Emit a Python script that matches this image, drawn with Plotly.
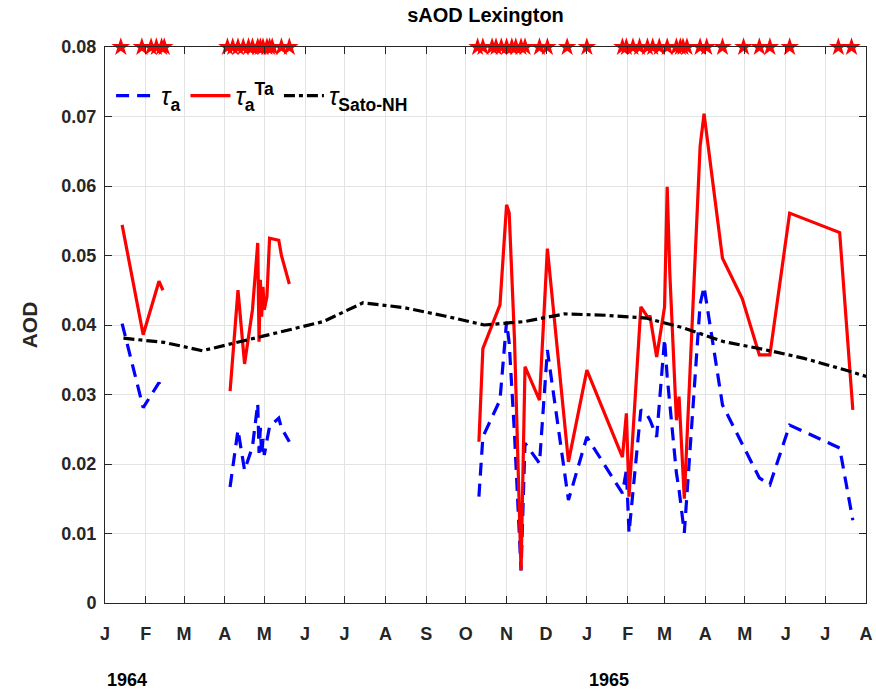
import plotly.graph_objects as go

# Daily retrievals at Lexington (None marks gaps between observing campaigns)
obs_dates = [
    "1964-01-14", "1964-01-30", "1964-02-11", "1964-02-14",
    "1964-03-15",
    "1964-04-05", "1964-04-11", "1964-04-16", "1964-04-22", "1964-04-26",
    "1964-04-27", "1964-04-28", "1964-04-29", "1964-04-30", "1964-05-01",
    "1964-05-03", "1964-05-05", "1964-05-12", "1964-05-14", "1964-05-20",
    "1964-08-01",
    "1964-10-11", "1964-10-14", "1964-10-27", "1964-11-01", "1964-11-03",
    "1964-11-07", "1964-11-12", "1964-11-15", "1964-11-26", "1964-12-02",
    "1964-12-18", "1965-01-01", "1965-01-28", "1965-01-31", "1965-02-02",
    "1965-02-11", "1965-02-16", "1965-02-18", "1965-02-23", "1965-03-01",
    "1965-03-03", "1965-03-05", "1965-03-10", "1965-03-12", "1965-03-16",
    "1965-03-28", "1965-03-31", "1965-04-14", "1965-04-29", "1965-05-12",
    "1965-05-20", "1965-06-04", "1965-07-12", "1965-07-22",
]

tau_a = [
    0.0402, 0.0281, 0.0317, 0.0305,
    None,
    0.0167, 0.0249, 0.0191, 0.0225, 0.0287,
    0.0216, 0.0252, 0.0213, 0.0236, 0.0213,
    0.0234, 0.0254, 0.0266, 0.0252, 0.0232,
    None,
    0.0153, 0.0239, 0.0292, 0.0405, 0.0374,
    0.0244, 0.0047, 0.0230, 0.0201, 0.0364,
    0.0148, 0.0239, 0.0158, 0.0191, 0.0101,
    0.0278, 0.0270, 0.0263, 0.0239, 0.0380,
    0.0326, 0.0288, 0.0187, 0.0163, 0.0101,
    0.0430, 0.0455, 0.0285, 0.0228, 0.0180,
    0.0170, 0.0256, 0.0223, 0.0119,
]

tau_a_ta = [
    0.0544, 0.0386, 0.0463, 0.0450,
    None,
    0.0305, 0.0450, 0.0344, 0.0422, 0.0518,
    0.0376, 0.0465, 0.0412, 0.0455, 0.0422,
    0.0441, 0.0525, 0.0522, 0.0500, 0.0459,
    None,
    0.0232, 0.0366, 0.0429, 0.0573, 0.0561,
    0.0380, 0.0047, 0.0340, 0.0292, 0.0510,
    0.0203, 0.0335, 0.0210, 0.0273, 0.0153,
    0.0426, 0.0412, 0.0412, 0.0354, 0.0426,
    0.0599, 0.0474, 0.0263, 0.0297, 0.0150,
    0.0657, 0.0704, 0.0496, 0.0438, 0.0357,
    0.0357, 0.0561, 0.0533, 0.0278,
]

# Monthly Sato Northern Hemisphere stratospheric AOD
sato_dates = [
    "1964-01-15", "1964-02-15", "1964-03-15", "1964-04-15", "1964-05-15",
    "1964-06-15", "1964-07-15", "1964-08-15", "1964-09-15", "1964-10-15",
    "1964-11-15", "1964-12-15", "1965-01-15", "1965-02-15", "1965-03-15",
    "1965-04-15", "1965-05-15", "1965-06-15", "1965-07-15", "1965-08-15",
]
sato_nh = [
    0.0381, 0.0375, 0.0363, 0.0377, 0.0390,
    0.0405, 0.0432, 0.0425, 0.0413, 0.0400,
    0.0405, 0.0416, 0.0414, 0.0410, 0.0396,
    0.0376, 0.0365, 0.0352, 0.0336, 0.0318,
]

# Days with a photometer observation, flagged along the top of the axes
flag_dates = [
    "1964-01-13", "1964-01-29", "1964-02-05", "1964-02-09", "1964-02-13",
    "1964-02-15",
    "1964-04-03", "1964-04-07", "1964-04-11", "1964-04-15", "1964-04-19",
    "1964-04-22", "1964-04-26", "1964-04-28", "1964-04-30", "1964-05-03",
    "1964-05-05", "1964-05-07", "1964-05-14", "1964-05-20",
    "1964-10-10", "1964-10-14", "1964-10-21", "1964-10-24", "1964-10-28",
    "1964-11-01", "1964-11-05", "1964-11-08", "1964-11-12", "1964-11-15",
    "1964-11-26", "1964-12-02", "1964-12-17", "1965-01-01", "1965-01-28",
    "1965-01-31", "1965-02-05", "1965-02-10", "1965-02-16", "1965-02-20",
    "1965-02-25", "1965-03-03", "1965-03-10", "1965-03-13", "1965-03-15",
    "1965-03-18", "1965-03-28", "1965-04-02", "1965-04-14", "1965-04-30",
    "1965-05-12", "1965-05-20", "1965-06-04", "1965-07-11", "1965-07-21",
]
flag_level = 0.08

month_ticks = [
    "1964-01-01", "1964-02-01", "1964-03-01", "1964-04-01", "1964-05-01",
    "1964-06-01", "1964-07-01", "1964-08-01", "1964-09-01", "1964-10-01",
    "1964-11-01", "1964-12-01", "1965-01-01", "1965-02-01", "1965-03-01",
    "1965-04-01", "1965-05-01", "1965-06-01", "1965-07-01", "1965-08-01",
]
month_letters = ["J", "F", "M", "A", "M", "J", "J", "A", "S", "O",
                 "N", "D", "J", "F", "M", "A", "M", "J", "J", "A"]
year_labels = ["1964", "1965"]
year_starts = ["1964-01-01", "1965-01-01"]

y_ticks = [0, 0.01, 0.02, 0.03, 0.04, 0.05, 0.06, 0.07, 0.08]
y_ticktext = ["0", "0.01", "0.02", "0.03", "0.04", "0.05", "0.06", "0.07", "0.08"]

FONT = "Arial, 'Liberation Sans', Helvetica, sans-serif"
INK = "#262626"

fig = go.Figure()

fig.add_trace(go.Scatter(
    x=obs_dates, y=tau_a, mode="lines",
    line=dict(color="#0000ff", width=3.2, dash="13px,8px"),
    name="<i>τ</i><sub><b>a</b></sub>",
))
fig.add_trace(go.Scatter(
    x=obs_dates, y=tau_a_ta, mode="lines",
    line=dict(color="#ff0000", width=3.2),
    name="<i>τ</i><sub><b>a</b></sub><sup><b>Ta</b></sup>",
))
fig.add_trace(go.Scatter(
    x=sato_dates, y=sato_nh, mode="lines",
    line=dict(color="#000000", width=3.2, dash="11px,4px,4px,4px"),
    name="<i>τ</i><sub><b>Sato-NH</b></sub>",
))
fig.add_trace(go.Scatter(
    x=flag_dates, y=[flag_level] * len(flag_dates), mode="markers",
    marker=dict(symbol="star", size=14, color="#ff0000", line=dict(width=0)),
    cliponaxis=False, showlegend=False, hoverinfo="x",
))

for label, start in zip(year_labels, year_starts):
    fig.add_annotation(
        x=start, xref="x", y=-0.139, yref="paper",
        text="<b>%s</b>" % label, showarrow=False,
        xanchor="left", yanchor="middle",
        font=dict(family=FONT, size=18, color="#000000"),
    )

fig.update_layout(
    width=876, height=692,
    margin=dict(l=105, r=10, t=47, b=89, autoexpand=False),
    paper_bgcolor="white", plot_bgcolor="white",
    font=dict(family=FONT, color=INK),
    title=dict(
        text="<b>sAOD Lexington</b>", x=0.5, xref="paper", xanchor="center",
        y=1 - 15 / 692, yanchor="middle",
        font=dict(family=FONT, size=20, color="#000000"),
    ),
    legend=dict(
        orientation="h", x=0.008, y=0.912, xanchor="left", yanchor="middle",
        bgcolor="rgba(0,0,0,0)", borderwidth=0,
        font=dict(family=FONT, size=25, color="#000000"),
        itemwidth=40, tracegroupgap=0,
    ),
    showlegend=True,
)

fig.update_xaxes(
    type="date", range=["1964-01-01", "1965-08-01"], automargin=False,
    tickmode="array", tickvals=month_ticks,
    ticktext=["<b>%s</b>" % t for t in month_letters],
    tickfont=dict(family=FONT, size=18, color=INK),
    ticks="inside", ticklen=7, tickcolor=INK, tickwidth=1,
    ticklabelstandoff=14,
    showline=True, linecolor=INK, linewidth=1, mirror="ticks",
    showgrid=True, gridcolor="#e3e3e3", gridwidth=1,
    zeroline=False,
)
fig.update_yaxes(
    range=[0, 0.08], tickmode="array", tickvals=y_ticks, automargin=False,
    ticktext=["<b>%s</b>" % t for t in y_ticktext],
    tickfont=dict(family=FONT, size=18, color=INK),
    ticks="inside", ticklen=7, tickcolor=INK, tickwidth=1,
    ticklabelstandoff=4,
    showline=True, linecolor=INK, linewidth=1, mirror="ticks",
    showgrid=True, gridcolor="#e3e3e3", gridwidth=1,
    zeroline=False,
    title=dict(text="<b>AOD</b>", font=dict(family=FONT, size=21, color=INK),
               standoff=18),
)

fig.write_html("out.html")
